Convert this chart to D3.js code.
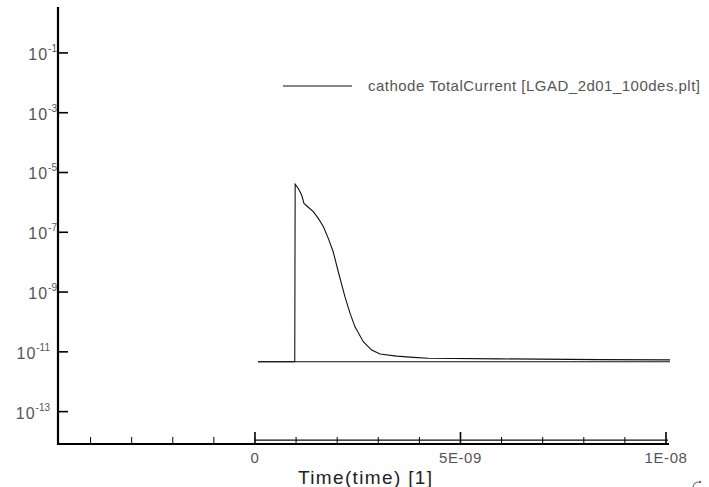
<!DOCTYPE html>
<html><head><meta charset="utf-8">
<script src="https://cdn.jsdelivr.net/npm/d3@7"></script>
<style>html,body{margin:0;padding:0;background:#fff;} svg{display:block;}</style>
</head><body>
<svg id="chart" width="709" height="487"></svg>
<script>
// ---- data ----
const seriesName = "cathode TotalCurrent [LGAD_2d01_100des.plt]";
const pulseTime = [0.085e-9, 0.98e-9, 0.99e-9, 1.066e-9, 1.148e-9, 1.204e-9, 1.309e-9, 1.431e-9, 1.553e-9, 1.674e-9,
  1.796e-9, 1.917e-9, 2.039e-9, 2.202e-9, 2.324e-9, 2.445e-9, 2.647e-9, 2.852e-9, 3.054e-9, 3.46e-9,
  3.864e-9, 4.229e-9, 5.97e-9, 8.41e-9, 10.11e-9];
const pulseCurrent = [4.5e-12, 4.5e-12, 3.9e-6, 2.8e-6, 1.7e-6, 8.9e-7, 6.6e-7, 4.7e-7, 2.8e-7, 1.5e-7,
  6.0e-8, 2.1e-8, 4.6e-9, 6.6e-10, 1.9e-10, 6.6e-11, 2.1e-11, 1.1e-11, 8.1e-12, 6.9e-12,
  6.3e-12, 5.9e-12, 5.6e-12, 5.3e-12, 5.2e-12];
const baseTime = [0.085e-9, 10.11e-9];
const baseCurrent = [4.5e-12, 4.5e-12];
const floorTime = [0, 10.06e-9];
const floorCurrent = [1.07e-14, 1.07e-14];
const xMajorTicks = [0, 5e-9, 1e-8];
const xMajorLabels = ["0", "5E-09", "1E-08"];
const xMinorTicks = [-4e-9, -3e-9, -2e-9, -1e-9, 1e-9, 2e-9, 3e-9, 4e-9, 6e-9, 7e-9, 8e-9, 9e-9];
const yTickExponents = [-1, -3, -5, -7, -9, -11, -13];
const xTitle = "Time(time) [1]";

// ---- layout ----
const svg = d3.select("#chart");
const mLeft = 58, mRight = 669, mTop = 7, mBottom = 444;
const x = d3.scaleLinear().domain([-4.78e-9, 1.0085e-8]).range([mLeft, mRight]);
const y = d3.scaleLog().domain([Math.pow(10, -14.10), Math.pow(10, 0.52)]).range([mBottom, mTop]);
const font = "'Liberation Sans', Arial, Helvetica, sans-serif";
const textCol = "#555";

// data lines
const line = d3.line().x(d => x(d[0])).y(d => y(d[1]));
const series = [
  d3.zip(floorTime, floorCurrent),
  d3.zip(baseTime, baseCurrent),
  d3.zip(pulseTime, pulseCurrent)
];
svg.append("g").selectAll("path").data(series).join("path")
  .attr("d", line).attr("fill", "none").attr("stroke", "#111").attr("stroke-width", 1.1);

// y axis
const yAxis = d3.axisLeft(y).tickValues(yTickExponents.map(e => Math.pow(10, e)))
  .tickSize(-10).tickFormat("");
const gy = svg.append("g").attr("transform", `translate(${mLeft},0)`).call(yAxis);
gy.select(".domain").remove();
gy.selectAll(".tick line").attr("stroke", "#000").attr("stroke-width", 1.6);
gy.selectAll(".tick").each(function(d, i) {
  const e = yTickExponents[i];
  const t = d3.select(this).append("text")
    .attr("x", Math.abs(e) >= 10 ? -8 : -1)
    .attr("y", 7)
    .attr("text-anchor", "end")
    .attr("fill", textCol)
    .style("font-family", font);
  t.append("tspan").style("font-size", "16px").attr("letter-spacing", "1px").text("10");
  t.append("tspan").style("font-size", "10px").attr("dy", -8).text("-" + Math.abs(e));
});

// x axis minor ticks
const gxm = svg.append("g").attr("transform", `translate(0,${mBottom})`)
  .call(d3.axisBottom(x).tickValues(xMinorTicks).tickSize(-7).tickFormat(""));
gxm.select(".domain").remove();
gxm.selectAll(".tick line").attr("stroke", "#000").attr("stroke-width", 1);
// x axis major ticks
const gx = svg.append("g").attr("transform", `translate(0,${mBottom})`)
  .call(d3.axisBottom(x).tickValues(xMajorTicks).tickSize(-12).tickPadding(8)
    .tickFormat((d, i) => xMajorLabels[i]));
gx.select(".domain").remove();
gx.selectAll(".tick line").attr("stroke", "#000").attr("stroke-width", 1.6);
gx.selectAll(".tick text").attr("fill", textCol).attr("letter-spacing", "0.6px")
  .style("font-family", font).style("font-size", "15px");

// axis lines
svg.append("line").attr("x1", mLeft).attr("x2", mLeft).attr("y1", mTop).attr("y2", mBottom + 1)
  .attr("stroke", "#000").attr("stroke-width", 2.2);
svg.append("line").attr("x1", mLeft - 1).attr("x2", mRight).attr("y1", mBottom).attr("y2", mBottom)
  .attr("stroke", "#000").attr("stroke-width", 2.2);

// x title
svg.append("text").attr("x", 298).attr("y", 484).attr("fill", "#222")
  .attr("textLength", 134).attr("lengthAdjust", "spacing")
  .style("font-family", font).style("font-size", "19px").text(xTitle);

// legend
svg.append("line").attr("x1", 283).attr("x2", 352).attr("y1", 86).attr("y2", 86)
  .attr("stroke", "#111").attr("stroke-width", 1.1);
svg.append("text").attr("x", 368).attr("y", 91).attr("fill", textCol)
  .attr("textLength", 332).attr("lengthAdjust", "spacing")
  .style("font-family", font).style("font-size", "15px").text(seriesName);

// small mark at bottom right
svg.append("path").attr("d", "M693,487 Q694,482 699,482").attr("fill", "none").attr("stroke", "#777").attr("stroke-width", 1.2);
svg.append("rect").attr("x", 699).attr("y", 481).attr("width", 2).attr("height", 2).attr("fill", "#e03020");
</script>
</body></html>
